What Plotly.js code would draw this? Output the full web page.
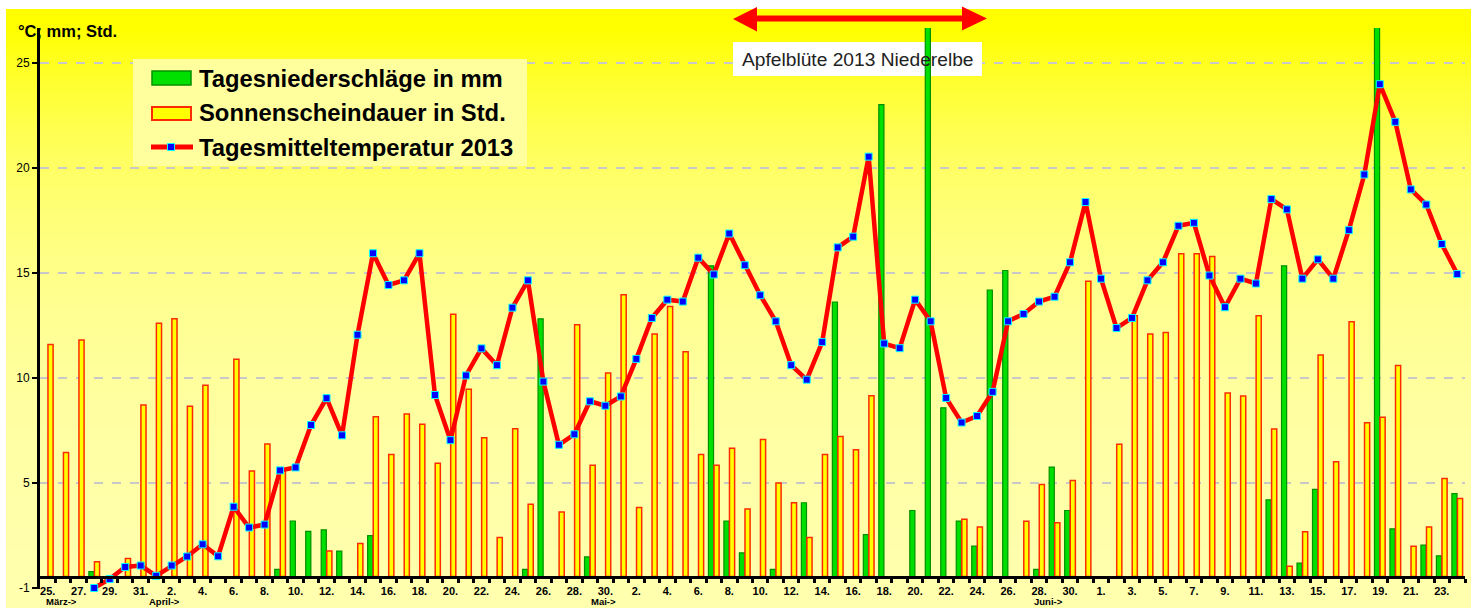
<!DOCTYPE html>
<html><head><meta charset="utf-8">
<script src="https://cdn.plot.ly/plotly-3.0.1.min.js"></script>
<style>html,body{margin:0;padding:0;background:#fff;overflow:hidden}#chart{width:1475px;height:608px}</style>
</head><body><div id="chart"></div>
<script>
// ---------- data ----------
const days = [
"25.03.","26.03.","27.03.","28.03.","29.03.","30.03.","31.03.",
"01.04.","02.04.","03.04.","04.04.","05.04.","06.04.","07.04.","08.04.","09.04.","10.04.",
"11.04.","12.04.","13.04.","14.04.","15.04.","16.04.","17.04.","18.04.","19.04.","20.04.",
"21.04.","22.04.","23.04.","24.04.","25.04.","26.04.","27.04.","28.04.","29.04.","30.04.",
"01.05.","02.05.","03.05.","04.05.","05.05.","06.05.","07.05.","08.05.","09.05.","10.05.",
"11.05.","12.05.","13.05.","14.05.","15.05.","16.05.","17.05.","18.05.","19.05.","20.05.",
"21.05.","22.05.","23.05.","24.05.","25.05.","26.05.","27.05.","28.05.","29.05.","30.05.","31.05.",
"01.06.","02.06.","03.06.","04.06.","05.06.","06.06.","07.06.","08.06.","09.06.","10.06.",
"11.06.","12.06.","13.06.","14.06.","15.06.","16.06.","17.06.","18.06.","19.06.","20.06.",
"21.06.","22.06.","23.06.","24.06."
];
const tickLabels = ["25.","27.","29.","31.","2.","4.","6.","8.","10.","12.","14.","16.","18.","20.","22.","24.","26.","28.","30.",
"2.","4.","6.","8.","10.","12.","14.","16.","18.","20.","22.","24.","26.","28.","30.",
"1.","3.","5.","7.","9.","11.","13.","15.","17.","19.","21.","23."];
const monthLabels = ["März->","April->","Mai->","Juni->"];
const yTickValues = [0,5,10,15,20,25];
const yTickLabels = ["-1","5","10","15","20","25"];

// Tagesmitteltemperatur 2013 (°C)
const temperature = [
null,null,null,0.0,0.43,1.0,1.07,
0.58,1.07,1.5,2.08,1.51,3.87,2.88,3.02,5.6,5.74,
7.76,9.04,7.27,12.06,15.94,14.43,14.65,15.94,9.19,7.04,
10.12,11.41,10.61,13.35,14.65,9.83,6.82,7.32,8.89,8.68,
9.12,10.91,12.86,13.73,13.64,15.73,14.93,16.88,15.37,13.94,
12.7,10.61,9.92,11.71,16.22,16.73,20.54,11.64,11.42,13.73,
12.7,9.05,7.88,8.19,9.34,12.7,13.05,13.64,13.87,15.51,18.38,
14.73,12.38,12.86,14.65,15.51,17.25,17.39,14.88,13.37,14.73,
14.5,18.52,18.03,14.73,15.65,14.73,17.04,19.69,23.99,22.2,
18.98,18.26,16.38,14.95
];
// Tagesniederschläge (mm)
const rain = [
0,0,0,0.78,0,0,0,
0,0,0,0,0,0,0,0,0.89,3.19,
2.7,2.77,1.76,0,2.49,0,0,0,0,0,
0,0,0,0,0.89,12.82,0,0,1.48,0,
0,0,0,0,0,0,15.34,3.19,1.67,0,
0.89,0,4.06,0,13.62,0,2.54,23.02,0,3.69,
26.8,8.58,3.18,1.99,14.19,15.12,0,0.89,5.76,3.69,0,
0,0,0,0,0,0,0,0,0,0,
0,4.2,15.34,1.18,4.7,0,0,0,26.8,2.82,
0,2.04,1.53,4.49
];
// Sonnenscheindauer (Std.)
const sunshine = [
11.6,6.45,11.81,1.25,0,1.41,8.72,
12.61,12.82,8.65,9.65,0,10.89,5.57,6.86,5.58,0,
0,1.76,0,2.12,8.15,6.36,8.29,7.8,5.94,13.04,
9.46,7.16,2.4,7.58,3.99,0,3.62,12.54,5.85,10.24,
13.97,3.83,12.1,13.41,11.25,6.36,5.85,6.65,3.76,7.07,
5.0,4.06,2.4,6.36,7.21,6.58,9.16,0,0,0,
0,0,3.27,2.91,0,0,3.18,4.93,3.11,5.12,14.61,
0,6.84,12.96,12.1,12.17,15.92,15.92,15.78,9.28,9.14,
12.96,7.57,1.04,2.68,11.09,6.01,12.68,7.87,8.13,10.59,
1.99,2.91,5.21,4.26
];

// ---------- geometry helpers (layout only) ----------
const W = 1475, H = 608, ML = 40, MR = 10, MT = 28, MB = 19;
const PW = W - ML - MR, PH = H - MT - MB;
const N = days.length;
const YMIN = -1/21, YMAX = 560/21;
const px = x => (x - ML) / PW;
const py = y => (H - MB - y) / PH;
const dx = x => (x - ML) / (PW / N) - 0.5;
const dy = y => YMAX - (y - MT) / PH * (YMAX - YMIN);
const BASE = dy(576.5);

const xIdx = days.map((_, i) => i);
const FONT = "Liberation Sans, Arial, sans-serif";

const traces = [
  {type:'bar', x:xIdx, y:rain.map(v => v > 0 ? v - BASE : null), base:BASE,
   name:'Tagesniederschläge in mm', customdata:days,
   marker:{color:'#00E000', line:{color:'#009000', width:1.2}}, showlegend:false, hoverinfo:'skip'},
  {type:'bar', x:xIdx, y:sunshine.map(v => v > 0 ? v - BASE : null), base:BASE,
   name:'Sonnenscheindauer in Std.', customdata:days,
   marker:{color:'#FFFF00', line:{color:'#FF2A00', width:1.5}}, showlegend:false, hoverinfo:'skip'},
  {type:'scatter', mode:'lines+markers', x:xIdx, y:temperature, name:'Tagesmitteltemperatur 2013',
   line:{color:'#FF0000', width:4.5}, cliponaxis:false,
   marker:{symbol:'square', size:7, color:'#0000FF', line:{color:'#00FFFF', width:1}},
   showlegend:false, hoverinfo:'skip'}
];

const shapes = [];
// background gradient
for (let k = 0; k < 100; k++) {
  const y0 = 9 + k * 6, y1 = y0 + 6.6, yc = y0 + 3;
  const b = Math.round(180 * (1 - Math.exp(-Math.max(0, yc - 30) / 170)));
  shapes.push({type:'rect', xref:'paper', yref:'paper', layer:'below',
    x0:px(6), x1:px(1471), y0:py(Math.min(y1, 608)), y1:py(y0),
    fillcolor:`rgb(255,255,${b})`, line:{width:0}});
}
// legend box and annotation box (above grid, below traces)
shapes.push({type:'rect', xref:'x', yref:'y', layer:'between',
  x0:dx(133), x1:dx(527), y0:dy(166), y1:dy(59), fillcolor:'#FFFF9E', line:{width:0}});
shapes.push({type:'rect', xref:'x', yref:'y', layer:'between',
  x0:dx(733), x1:dx(982), y0:dy(76), y1:dy(42), fillcolor:'#FFFFFF', line:{width:0}});
// legend swatches
shapes.push({type:'rect', xref:'paper', yref:'paper', layer:'above',
  x0:px(152), x1:px(191), y0:py(85), y1:py(71), fillcolor:'#00E000', line:{color:'#009000', width:1.5}});
shapes.push({type:'rect', xref:'paper', yref:'paper', layer:'above',
  x0:px(152), x1:px(191), y0:py(120), y1:py(107), fillcolor:'#FFFF00', line:{color:'#FF2A00', width:2}});
shapes.push({type:'line', xref:'paper', yref:'paper', layer:'above',
  x0:px(151), x1:px(193), y0:py(147), y1:py(147), line:{color:'#FF0000', width:5}});
shapes.push({type:'rect', xref:'paper', yref:'paper', layer:'above',
  x0:px(167.5), x1:px(174.5), y0:py(150.5), y1:py(143.5), fillcolor:'#0000FF', line:{color:'#00FFFF', width:1}});
// double arrow (Apfelblüte period)
const arrowPts = [[733,19],[757,7],[757,15.5],[962,15.5],[962,6.5],[987,18.5],[962,30.5],[962,21.5],[757,21.5],[757,31.5]];
shapes.push({type:'path', xref:'paper', yref:'paper', layer:'above',
  path:'M' + arrowPts.map(p => px(p[0]).toFixed(5) + ',' + py(p[1]).toFixed(5)).join(' L') + ' Z',
  fillcolor:'#FF0000', line:{width:0}});

const annotations = [
  {xref:'paper', yref:'paper', x:px(16), y:py(31), xanchor:'left', yanchor:'middle', showarrow:false,
   text:'<b>°C; mm; Std.</b>', font:{family:FONT, size:16.5, color:'#000'}},
  {xref:'paper', yref:'paper', x:px(857.5), y:py(59), xanchor:'center', yanchor:'middle', showarrow:false,
   text:'Apfelblüte 2013 Niederelbe', font:{family:FONT, size:19.2, color:'#222'}},
  {xref:'paper', yref:'paper', x:px(197), y:py(78), xanchor:'left', yanchor:'middle', showarrow:false,
   text:'<b>' + traces[0].name + '</b>', font:{family:FONT, size:23.8, color:'#000'}},
  {xref:'paper', yref:'paper', x:px(197), y:py(113), xanchor:'left', yanchor:'middle', showarrow:false,
   text:'<b>' + traces[1].name + '</b>', font:{family:FONT, size:23.8, color:'#000'}},
  {xref:'paper', yref:'paper', x:px(197), y:py(147), xanchor:'left', yanchor:'middle', showarrow:false,
   text:'<b>' + traces[2].name + '</b>', font:{family:FONT, size:23.8, color:'#000'}}
];
const monthPix = [45, 148, 590, 1033];
monthLabels.forEach((t, k) => annotations.push({xref:'paper', yref:'paper', x:px(monthPix[k]), y:py(608),
  xanchor:'left', yanchor:'bottom', showarrow:false, borderpad:0,
  text:'<b>' + t + '</b>', font:{family:FONT, size:9.5, color:'#000'}}));

const layout = {
  width:W, height:H, margin:{l:ML, r:MR, t:MT, b:MB, pad:0},
  paper_bgcolor:'#FFFFFF', plot_bgcolor:'rgba(0,0,0,0)',
  barmode:'group', bargap:0.28, bargroupgap:0.08,
  font:{family:FONT, color:'#000'},
  showlegend:false,
  xaxis:{type:'linear', range:[-0.5, N - 0.5], anchor:'free', position:(H - MB - 576.5) / PH,
    showline:true, linewidth:3, linecolor:'#000', showgrid:false, zeroline:false,
    tickmode:'array', tickvals:tickLabels.map((_, k) => 2 * k), ticktext:tickLabels,
    ticks:'outside', ticklen:3, tickcolor:'rgba(0,0,0,0)',
    tickfont:{family:FONT, size:11, color:'#000', weight:'bold'},
    minor:{tickmode:'array', tickvals:days.map((_, i) => i + 0.5), ticks:'outside', ticklen:4, tickwidth:3, tickcolor:'#000', showgrid:false},
    fixedrange:true},
  yaxis:{range:[YMIN, YMAX], showline:true, linewidth:3, linecolor:'#000', zeroline:false,
    tickmode:'array', tickvals:yTickValues, ticktext:yTickLabels,
    ticks:'outside', ticklen:5, tickwidth:2, tickcolor:'#000',
    showgrid:true, gridcolor:'#C8C8C8', gridwidth:1.2, griddash:'dash',
    tickfont:{family:FONT, size:12, color:'#000'}, fixedrange:true},
  shapes:shapes, annotations:annotations
};
Plotly.newPlot('chart', traces, layout, {displayModeBar:false, staticPlot:true});
</script></body></html>
